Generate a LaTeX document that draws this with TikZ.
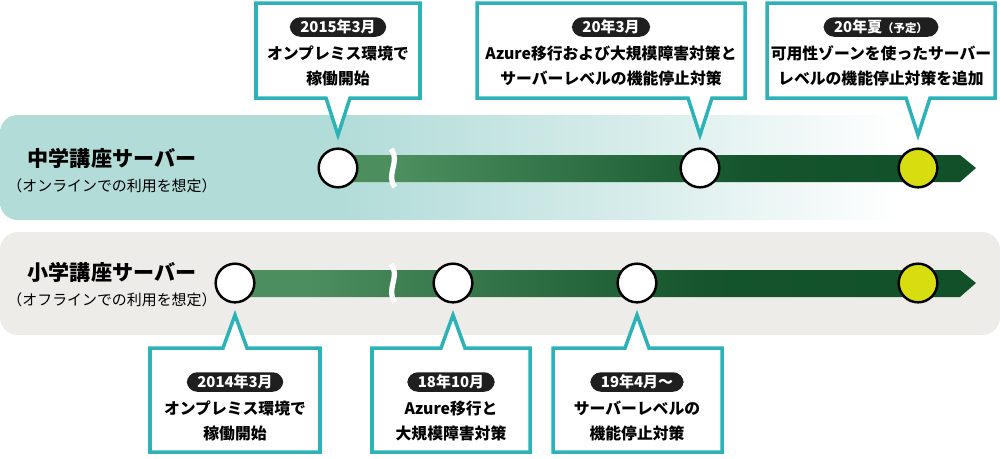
\documentclass[tikz,border=0pt]{standalone}
\usepackage{fontspec}
\setmainfont{Noto Sans CJK JP}
\definecolor{tealband}{HTML}{B2DCD8}
\definecolor{grayband}{HTML}{EEECE8}
\definecolor{lightgreen}{HTML}{4C8E5E}
\definecolor{darkgreen}{HTML}{0B4A24}
\definecolor{callout}{HTML}{2DB3B7}
\definecolor{dotyellow}{HTML}{D8DD10}
\pgfdeclarehorizontalshading{bandfade}{100bp}{color(0bp)=(tealband); color(42bp)=(tealband); color(56bp)=(tealband!55!white); color(70bp)=(white); color(100bp)=(white)}
\pgfdeclarehorizontalshading{greenline}{100bp}{color(0bp)=(lightgreen); color(30bp)=(lightgreen); color(57bp)=(darkgreen!85!lightgreen); color(100bp)=(darkgreen)}
\tikzset{
  band/.style={rounded corners=10pt},
  dot/.style={circle, draw=black, line width=1.4pt, minimum size=22pt, inner sep=0pt},
  pill/.style={fill=black!88, text=white, rounded corners=6pt, inner xsep=6pt, inner ysep=1.5pt, font=\bfseries\fontsize{8.5}{10}\selectfont},
  body/.style={align=center, font=\bfseries\fontsize{9}{14}\selectfont},
  callbox/.style={draw=callout, line width=2pt, fill=white},
  breakmark/.style={white, line width=3pt}
}
\begin{document}
\begin{tikzpicture}[x=0.02cm, y=-0.02cm]
  \useasboundingbox (0,0) rectangle (1000,458);
  % bands
  \shade[band, shading=bandfade] (0,115) rectangle (1000,220);
  \fill[band, grayband] (0,232) rectangle (1000,335);
  \node[font=\bfseries\fontsize{12}{14}\selectfont] (t1) at (112,158) {中学講座サーバー};
  \node[font=\fontsize{8.5}{10}\selectfont] (t2) at (112,186) {（オンラインでの利用を想定）};
  \node[font=\bfseries\fontsize{12}{14}\selectfont] (b1) at (112,272) {小学講座サーバー};
  \node[font=\fontsize{8.5}{10}\selectfont] (b2) at (112,300) {（オフラインでの利用を想定）};
  % timelines
  \shade[shading=greenline] (338,155) -- (960,155) -- (976,168) -- (960,182) -- (338,182) -- cycle;
  \shade[shading=greenline] (235,270) -- (960,270) -- (976,283) -- (960,297) -- (235,297) -- cycle;
  \foreach \yb in {149, 264}
    \draw[breakmark] (391,\yb) .. controls (401,\yb+12) and (385,\yb+26) .. (395,\yb+38);
  % dots
  \node[dot, fill=white] (u1) at (338,168) {};
  \node[dot, fill=white] (u2) at (700,168) {};
  \node[dot, fill=dotyellow] (u3) at (918,168) {};
  \node[dot, fill=white] (l1) at (235,283) {};
  \node[dot, fill=white] (l2) at (453,283) {};
  \node[dot, fill=white] (l3) at (637,283) {};
  \node[dot, fill=dotyellow] (l4) at (918,283) {};
  % top callouts
  \foreach \xa/\xb/\xt in {256/420/338, 477/745/700, 767/995/918}
    \draw[callbox, line join=miter] (\xa,3) -- (\xb,3) -- (\xb,98) -- (\xt+12,98) -- (\xt,135)
      -- (\xt-12,98) -- (\xa,98) -- cycle;
  % bottom callouts
  \foreach \xa/\xb/\xt in {150/320/235, 372/530/453, 553/722/637}
    \draw[callbox, line join=miter] (\xa,452) -- (\xb,452) -- (\xb,348) -- (\xt+12,348) -- (\xt,315)
      -- (\xt-12,348) -- (\xa,348) -- cycle;
  \node[pill] (d1) at (338,27) {2015年3月};
  \node[body] (c1) at (338,66) {オンプレミス環境で\\稼働開始};
  \node[pill] (d2) at (611,27) {20年3月};
  \node[body] (c2) at (611,66) {Azure移行および大規模障害対策と\\サーバーレベルの機能停止対策};
  \node[pill] (d3) at (881,27) {20年夏{\fontsize{6.5}{8}\selectfont（予定）}};
  \node[body] (c3) at (881,66) {可用性ゾーンを使ったサーバー\\レベルの機能停止対策を追加};
  \node[pill] (d4) at (235,382) {2014年3月};
  \node[body] (c4) at (235,421) {オンプレミス環境で\\稼働開始};
  \node[pill] (d5) at (451,382) {18年10月};
  \node[body] (c5) at (451,421) {Azure移行と\\大規模障害対策};
  \node[pill] (d6) at (637,382) {19年4月〜};
  \node[body] (c6) at (637,421) {サーバーレベルの\\機能停止対策};
\end{tikzpicture}
\end{document}
